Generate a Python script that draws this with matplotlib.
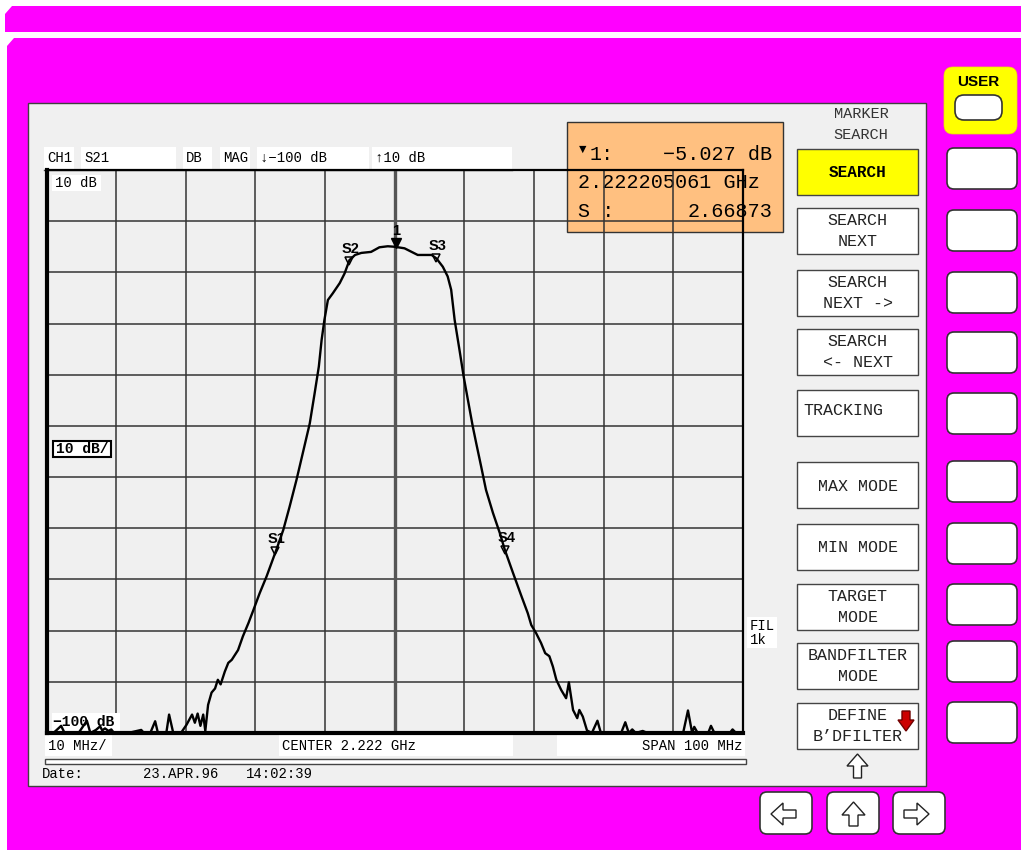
import matplotlib.pyplot as plt
from matplotlib.patches import Rectangle, FancyBboxPatch, Polygon

# S21 trace: offset from center (MHz) and level (dB)
offset_mhz = [-50.0, -49.0, -47.9, -47.4, -45.4, -44.2, -43.7, -42.9, -42.3, -42.0,
              -41.6, -41.1, -40.7, -40.3, -38.3, -36.4, -36.0, -35.1, -34.4, -34.0,
              -32.8, -32.4, -31.8, -30.7, -29.9, -29.1, -28.7, -28.3, -27.9, -27.5,
              -27.2, -26.8, -26.3, -25.8, -25.4, -25.0, -24.4, -23.9, -23.4, -22.5,
              -21.8, -21.0, -20.3, -19.4, -18.4, -17.7, -17.0, -16.0, -15.1, -14.1,
              -13.2, -12.2, -11.5, -10.9, -10.5, -10.1, -9.6, -8.9, -7.9, -7.2,
              -6.5, -5.7, -4.8, -3.4, -2.2, -1.0, 0.0, 1.4, 3.3, 5.3,
              6.0, 6.9, 7.6, 8.1, 8.6, 9.3, 9.9, 10.5, 11.2, 11.7,
              12.4, 13.1, 14.1, 15.1, 15.8, 17.0, 18.2, 19.1, 19.6, 20.3,
              21.0, 21.6, 22.2, 22.7, 23.2, 23.9, 24.6, 25.0, 25.6, 26.2,
              26.5, 27.0, 27.6, 28.3, 29.1, 29.6, 32.5, 33.1, 33.6, 34.1,
              34.6, 35.6, 36.3, 41.4, 42.1, 42.7, 43.0, 43.5, 45.0, 45.4,
              45.9, 48.1, 48.5, 49.0, 50.0]
level_db = [-100, -100, -98.6, -100, -100, -97.6, -100, -99.4, -98.7, -99.5,
            -99.1, -99.6, -99.3, -100, -100, -99.4, -100, -100, -97.7, -100,
            -100, -96.4, -100, -100, -98.4, -96.4, -98.0, -96.2, -98.6, -96.4,
            -99.6, -94.5, -92.1, -91.3, -89.6, -90.5, -88.0, -86.3, -85.7, -83.8,
            -81.1, -78.5, -76.0, -72.7, -69.4, -66.8, -64.2, -60.3, -55.8, -50.5,
            -45.3, -39.5, -33.6, -28.4, -23.2, -19.3, -15.4, -14.1, -12.1, -10.2,
            -7.6, -6.6, -6.2, -6.0, -5.1, -4.9, -5.0, -5.3, -6.6, -6.6,
            -7.3, -8.9, -10.8, -13.4, -19.3, -25.2, -30.4, -34.9, -40.1, -43.4,
            -47.9, -52.5, -57.0, -61.0, -64.2, -68.8, -73.3, -76.6, -78.9, -80.5,
            -82.4, -84.4, -85.0, -87.0, -89.6, -91.6, -93.2, -90.1, -95.5, -97.1,
            -95.5, -96.8, -99.5, -100, -97.6, -100, -100, -97.9, -100, -99.3,
            -100, -99.6, -100, -100, -95.6, -100, -98.8, -100, -100, -98.6,
            -100, -100, -99.3, -100, -100]

center_mhz = 2222.0
span_mhz = 100.0
top_db = 10
bottom_db = -100

# search markers
marker_names = ["S1", "S2", "S3", "S4"]
marker_offsets = [-17.2, -6.6, 5.9, 15.8]
marker_levels = [-64.4, -7.7, -7.2, -64.2]
main_marker_offset = 0.2
main_marker_level = -4.2

header_labels = ["CH1", "S21", "DB", "MAG", "\u2193\u2212100 dB", "\u219110 dB"]
softkey_labels = ["SEARCH", "SEARCH\nNEXT", "SEARCH\nNEXT ->", "SEARCH\n<- NEXT", "TRACKING",
                  "MAX MODE", "MIN MODE", "TARGET\nMODE", "BANDFILTER\nMODE", "DEFINE\nB\u2019DFILTER"]

MAGENTA = "#FF00FF"
PANEL = "#F0F0F0"
MONO = ["Liberation Mono", "DejaVu Sans Mono"]
SANS = ["Liberation Sans", "DejaVu Sans"]

fig = plt.figure(figsize=(10.21, 8.5), dpi=100)
ui = fig.add_axes([0, 0, 1, 1])
ui.set_xlim(0, 1021)
ui.set_ylim(850, 0)
ui.axis("off")
ui.set_zorder(0)


def rect(target, x0, y0, x1, y1, fc="white", ec="none", lw=1.0, z=1):
    target.add_patch(Rectangle((x0, y0), x1 - x0, y1 - y0, fc=fc, ec=ec, lw=lw,
                               transform=ui.transData, clip_on=False, zorder=z))


def rbox(x0, y0, w, h, r, fc="white", ec="#333333", lw=1.2):
    ui.add_patch(FancyBboxPatch((x0, y0), w, h, boxstyle=f"round,pad=0,rounding_size={r}",
                                fc=fc, ec=ec, lw=lw))


def arrow(pts, fc="white", ec="#222222"):
    ui.add_patch(Polygon(pts, closed=True, fc=fc, ec=ec, lw=1.0))


# magenta frame
ui.add_patch(Polygon([(12, 6), (1021, 6), (1021, 32), (5, 32), (5, 14)], fc=MAGENTA, ec="none"))
ui.add_patch(Polygon([(14, 38), (1021, 38), (1021, 850), (7, 850), (7, 46)], fc=MAGENTA, ec="none"))

# instrument screen
rect(ui, 28, 103, 926, 786, fc=PANEL, ec="#404040", lw=1)

# header line above the grid
ui.plot([44, 512], [169.5, 169.5], color="#444444", lw=1)
hdr_boxes = [(44, 74), (81, 176), (183, 212), (220, 250), (257, 369), (372, 512)]
for (x0, x1), lab in zip(hdr_boxes, header_labels):
    rect(ui, x0, 147, x1, 169, z=2)
    ui.text(x0 + 3, 158, lab, fontsize=10, family=MONO, va="center", zorder=3)

# bottom annotation line
rect(ui, 45, 735, 112, 756, z=2)
ui.text(48, 746, "10 MHz/", fontsize=10, family=MONO, va="center", zorder=3)
rect(ui, 279, 735, 513, 756, z=2)
ui.text(282, 746, "CENTER 2.222 GHz", fontsize=10, family=MONO, va="center", zorder=3)
rect(ui, 557, 735, 745, 756, z=2)
ui.text(742, 746, "SPAN 100 MHz", fontsize=10, family=MONO, va="center", ha="right", zorder=3)
rect(ui, 45, 759, 746, 764, fc="white", ec="#444444", lw=1)
ui.text(42, 774, "Date:", fontsize=10, family=MONO, va="center")
ui.text(143, 774, "23.APR.96", fontsize=10, family=MONO, va="center")
ui.text(246, 774, "14:02:39", fontsize=10, family=MONO, va="center")

rect(ui, 747, 617, 777, 648, z=2)
ui.text(750, 626, "FIL", fontsize=10, family=MONO, va="center", zorder=3)
ui.text(750, 640, "1k", fontsize=10, family=MONO, va="center", zorder=3)

# softkey menu
ui.text(861, 114, "MARKER", fontsize=11, family=MONO, ha="center", va="center", color="#333333")
ui.text(861, 135, "SEARCH", fontsize=11, family=MONO, ha="center", va="center", color="#333333")
soft_tops = [149, 208, 270, 329, 390, 462, 524, 584, 643, 703]
for top, lab in zip(soft_tops, softkey_labels):
    first = lab == "SEARCH"
    rect(ui, 797, top, 918, top + 46, fc="#FFFF00" if first else "white", ec="#444444", lw=1)
    lines = lab.split("\n")
    if first:
        ui.text(857.5, top + 23, lab, fontsize=11.5, family=MONO, weight="bold",
                ha="center", va="center")
    elif lab == "TRACKING":
        ui.text(803, top + 20, lab, fontsize=12, family=MONO, va="center", color="#222222")
    elif len(lines) == 1:
        ui.text(857.5, top + 24, lab, fontsize=12, family=MONO, ha="center", va="center",
                color="#222222")
    else:
        ui.text(857.5, top + 12.5, lines[0], fontsize=12, family=MONO, ha="center",
                va="center", color="#222222")
        ui.text(857.5, top + 33.5, lines[1], fontsize=12, family=MONO, ha="center",
                va="center", color="#222222")
arrow([(902, 711), (910, 711), (910, 720), (914, 720), (906, 731), (898, 720), (902, 720)],
      fc="#CC0000", ec="#700000")
arrow([(857.5, 754), (868, 766), (861.5, 766), (861.5, 778), (853.5, 778), (853.5, 766), (847, 766)])

# hardware keys on the right
rbox(944, 67, 73, 67, 9, fc="#FFFF00", ec="#E8E800", lw=0.5)
rbox(955, 95, 47, 25, 9)
ui.text(978, 82, "USER", fontsize=11, family=SANS, weight="bold", ha="center", va="center")
for y0 in [148, 210, 272, 332, 393, 461, 523, 584, 641, 702]:
    rbox(947, y0, 70, 41, 7)

# navigation keys
for x0 in [760, 827, 893]:
    rbox(x0, 792, 52, 42, 7)
arrow([(771, 814), (783, 803), (783, 810), (796, 810), (796, 818), (783, 818), (783, 825)])
arrow([(853.5, 802), (865, 815), (858, 815), (858, 826), (849, 826), (849, 815), (842, 815)])
arrow([(929, 814), (917, 803), (917, 810), (904, 810), (904, 818), (917, 818), (917, 825)])

# measurement diagram
ax = fig.add_axes([46.5 / 1021, (850 - 733) / 850, (743 - 46.5) / 1021, (733 - 170) / 850])
ax.set_zorder(2)
ax.set_facecolor("none")
ax.set_xlim(center_mhz - span_mhz / 2, center_mhz + span_mhz / 2)
ax.set_ylim(bottom_db, top_db)
ax.set_xticks([center_mhz - span_mhz / 2 + 10 * i for i in range(11)])
ax.set_yticks(list(range(bottom_db, top_db + 1, 10)))
ax.tick_params(length=0, labelbottom=False, labelleft=False)
ax.grid(True, color="#333333", lw=1.1)
ax.set_axisbelow(True)
ax.axvline(center_mhz, color="#555555", lw=2.4, zorder=0.8)
for side in ["left", "bottom"]:
    ax.spines[side].set_linewidth(3)
for side in ["top", "right"]:
    ax.spines[side].set_linewidth(1.6)

# marker readout, drawn under the grid lines
rect(ax, 567, 122, 783, 232, fc="#FFC080", ec="#333333", lw=1, z=0.2)
readout = dict(fontsize=14.5, family=MONO, va="center", transform=ui.transData, zorder=0.3)
ax.text(579, 150, "\u25bc", fontsize=9, family=MONO, va="center", transform=ui.transData, zorder=0.3)
ax.text(590, 154, "1:", **readout)
ax.text(772, 154, "\u22125.027 dB", ha="right", **readout)
ax.text(578, 182, "2.222205061 GHz", **readout)
ax.text(578, 211, "S :", **readout)
ax.text(772, 211, "2.66873", ha="right", **readout)

# labels inside the grid
rect(ax, 52, 175, 101, 191, z=2)
ax.text(55, 183, "10 dB", fontsize=10, family=MONO, va="center", transform=ui.transData, zorder=2.1)
rect(ax, 53, 441, 111, 457, ec="black", lw=1.5, z=2)
ax.text(56, 449, "10 dB/", fontsize=10.5, family=MONO, weight="bold", va="center",
        transform=ui.transData, zorder=2.1)
rect(ax, 52, 713, 120, 731, z=2)
ax.text(53, 722, "\u2212100 dB", fontsize=10.5, family=MONO, weight="bold", va="center",
        transform=ui.transData, zorder=2.1)

freq = [center_mhz + o for o in offset_mhz]
ax.plot(freq, level_db, color="black", lw=1.7, zorder=3)

for name, off, lev in zip(marker_names, marker_offsets, marker_levels):
    ax.plot(center_mhz + off, lev, marker="v", ms=6, mfc="none", mec="black", mew=1.1, zorder=4)
    ax.annotate(name, (center_mhz + off, lev), xytext=(1, 8.5), textcoords="offset points",
                ha="center", va="center", fontsize=10.5, family=SANS, weight="bold", zorder=4)
ax.plot(center_mhz + main_marker_offset, main_marker_level, marker="v", ms=7, color="black", zorder=4)
ax.annotate("1", (center_mhz + main_marker_offset, main_marker_level), xytext=(0, 8.5),
            textcoords="offset points", ha="center", va="center", fontsize=10.5,
            family=SANS, weight="bold", zorder=4)

fig.savefig("out.png", dpi=100)
